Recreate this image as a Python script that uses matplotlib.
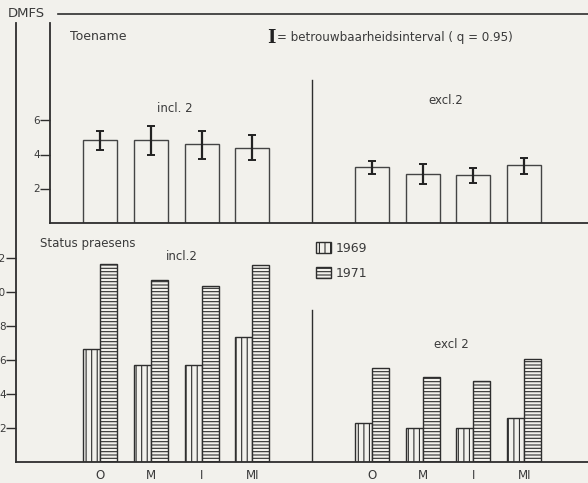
import matplotlib
matplotlib.use('Agg')
import matplotlib.pyplot as plt
from matplotlib.patches import Patch
from matplotlib.lines import Line2D
import numpy as np

# ---------------- data ----------------
categories = ['O', 'M', 'I', 'MI']
toename_incl = [4.88, 4.88, 4.59, 4.41]
toename_incl_lo = [4.29, 4.00, 3.76, 3.70]
toename_incl_hi = [5.41, 5.65, 5.41, 5.12]
toename_excl = [3.24, 2.88, 2.82, 3.41]
toename_excl_lo = [2.88, 2.29, 2.35, 2.88]
toename_excl_hi = [3.59, 3.47, 3.18, 3.82]
status_incl_1969 = [6.6, 5.7, 5.7, 7.35]
status_incl_1971 = [11.6, 10.7, 10.35, 11.55]
status_excl_1969 = [2.25, 2.0, 2.0, 2.55]
status_excl_1971 = [5.5, 4.95, 4.75, 6.05]
years = ['1969', '1971']
top_ticks = [2, 4, 6]
bottom_ticks = [2, 4, 6, 8, 10, 12]

# ---------------- style ----------------
W, H = 588, 483
bg = '#f2f1ec'
ink = '#2e2e2e'
txt = '#3a3a3a'
plt.rcParams['font.family'] = ['DejaVu Sans']
plt.rcParams['hatch.linewidth'] = 0.8

fig = plt.figure(figsize=(W / 100, H / 100), dpi=100)
fig.patch.set_facecolor(bg)

def fx(px):
    return px / W

def fy(py):
    return 1 - py / H

UNIT = 50.8      # px per category step
X0 = 100.0       # px of first category centre
EXCL_OFF = 5.35  # offset of second group in category steps
PXY = 17.0       # px per DMFS unit

def data_x(px):
    return (px - X0) / UNIT

x_incl = np.arange(len(categories))
x_excl = x_incl + EXCL_OFF
divider = data_x(312)

# ---------------- bottom axes (status praesens) ----------------
b_left, b_base, b_top = 16, 461.5, 23
axb = fig.add_axes([fx(b_left), fy(b_base), 1 - fx(b_left), (b_base - b_top) / H])
axb.set_facecolor('none')
axb.set_xlim(data_x(b_left), data_x(W))
axb.set_ylim(0, (b_base - b_top) / PXY)
bw = 0.335
kw69 = dict(width=bw, facecolor=bg, edgecolor=ink, linewidth=1.0, hatch='|||')
kw71 = dict(width=bw, facecolor=bg, edgecolor=ink, linewidth=1.0, hatch='-----')
axb.bar(x_incl - bw / 2, status_incl_1969, **kw69)
axb.bar(x_incl + bw / 2, status_incl_1971, **kw71)
axb.bar(x_excl - bw / 2, status_excl_1969, **kw69)
axb.bar(x_excl + bw / 2, status_excl_1971, **kw71)
for s in ['top', 'right']:
    axb.spines[s].set_visible(False)
for s in ['left', 'bottom']:
    axb.spines[s].set_color(ink)
    axb.spines[s].set_linewidth(1.3)
axb.set_yticks(bottom_ticks)
axb.tick_params(axis='y', length=7, width=1.0, color=ink, pad=0.5,
                labelsize=7.5, labelcolor=txt)
axb.set_xticks(np.concatenate([x_incl, x_excl]))
axb.set_xticklabels(categories + categories)
axb.tick_params(axis='x', length=0, pad=5.5, labelsize=8.5, labelcolor=txt)
axb.plot([divider, divider], [0, (b_base - 310) / PXY], color=ink, lw=1.0)

# ---------------- top axes (toename) ----------------
t_left, t_base, t_top = 50, 222.5, 23
axt = fig.add_axes([fx(t_left), fy(t_base), 1 - fx(t_left), (t_base - t_top) / H])
axt.set_facecolor('none')
axt.set_xlim(data_x(t_left), data_x(W))
axt.set_ylim(0, (t_base - t_top) / PXY)
tw = 0.67
kwt = dict(width=tw, facecolor=bg, edgecolor='#444444', linewidth=1.0)
axt.bar(x_incl, toename_incl, **kwt)
axt.bar(x_excl, toename_excl, **kwt)
err_incl = [np.subtract(toename_incl, toename_incl_lo), np.subtract(toename_incl_hi, toename_incl)]
err_excl = [np.subtract(toename_excl, toename_excl_lo), np.subtract(toename_excl_hi, toename_excl)]
ekw = dict(fmt='none', ecolor='#222222', elinewidth=1.6, capsize=2.6, capthick=1.4)
axt.errorbar(x_incl, toename_incl, yerr=err_incl, **ekw)
axt.errorbar(x_excl, toename_excl, yerr=err_excl, **ekw)
for s in ['top', 'right']:
    axt.spines[s].set_visible(False)
for s in ['left', 'bottom']:
    axt.spines[s].set_color(ink)
    axt.spines[s].set_linewidth(1.3)
axt.set_yticks(top_ticks)
axt.tick_params(axis='y', length=7, width=1.0, color=ink, pad=0.5,
                labelsize=7.5, labelcolor=txt)
axt.set_xticks([])
axt.plot([divider, divider], [0, (t_base - 80) / PXY], color=ink, lw=1.0)

# ---------------- texts & frame lines ----------------
fig.add_artist(Line2D([fx(58), 1], [fy(13.5), fy(13.5)], transform=fig.transFigure,
                      color=ink, lw=1.2))
fig.text(fx(8), fy(13.5), 'DMFS', fontsize=9.5, color=txt, va='center', ha='left')
fig.text(fx(70), fy(37), 'Toename', fontsize=9, color=txt, va='center', ha='left')
fig.text(fx(267), fy(38), 'I', fontsize=13, family='DejaVu Serif', fontweight='bold',
         color='#222222', va='center', ha='left')
fig.text(fx(277), fy(37), '= betrouwbaarheidsinterval ( q = 0.95)', fontsize=8.6,
         color=txt, va='center', ha='left')
fig.text(fx(175), fy(108), 'incl. 2', fontsize=8.5, color=txt, va='center', ha='center')
fig.text(fx(446), fy(100), 'excl.2', fontsize=8.5, color=txt, va='center', ha='center')
fig.text(fx(40), fy(244), 'Status praesens', fontsize=8.5, color=txt, va='center', ha='left')
fig.text(fx(182), fy(256), 'incl.2', fontsize=8.5, color=txt, va='center', ha='center')
fig.text(fx(451), fy(345), 'excl 2', fontsize=8.5, color=txt, va='center', ha='center')

handles = [Patch(facecolor=bg, edgecolor=ink, linewidth=1.0, hatch='|||'),
           Patch(facecolor=bg, edgecolor=ink, linewidth=1.0, hatch='-----')]
fig.legend(handles, years, loc='upper left', bbox_to_anchor=(fx(316), fy(242)),
           frameon=False, fontsize=9, handlelength=1.2, handleheight=1.0,
           handletextpad=0.35, labelspacing=0.95, borderpad=0, borderaxespad=0,
           labelcolor=txt)

fig.savefig('out.png', dpi=100, facecolor=bg)
